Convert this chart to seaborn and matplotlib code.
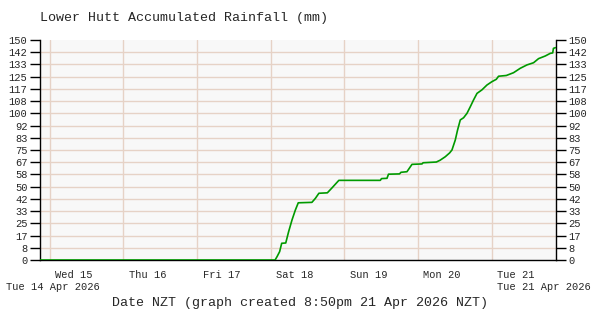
import numpy as np
import pandas as pd
import matplotlib
matplotlib.use("Agg")
import matplotlib.pyplot as plt
import matplotlib.transforms as mtransforms
import seaborn as sns

# ---- data (days since Wed 15 Apr 2026 00:00 NZT, accumulated rainfall mm) ----
days = [-0.132, 3.060, 3.087, 3.122, 3.150, 3.205, 3.244, 3.290, 3.335, 3.375,
        3.560, 3.607, 3.655, 3.770, 3.830, 3.926, 4.489, 4.505, 4.580, 4.600,
        4.750, 4.770, 4.851, 4.919, 5.055, 5.070, 5.250, 5.300, 5.371, 5.430,
        5.462, 5.507, 5.538, 5.575, 5.620, 5.666, 5.711, 5.755, 5.802, 5.869,
        5.937, 6.005, 6.064, 6.095, 6.200, 6.298, 6.389, 6.480, 6.570, 6.638,
        6.729, 6.797, 6.830, 6.840, 6.868]
rain_mm = [0, 0, 2.3, 5.7, 11.4, 11.6, 19.3, 27.3, 34.0, 39.0,
           39.3, 42.0, 45.5, 45.8, 49.0, 54.3, 54.3, 55.5, 55.7, 58.5,
           58.7, 59.8, 60.2, 65.2, 65.5, 66.3, 66.8, 68.0, 70.4, 73.0,
           75.0, 81.8, 88.6, 95.5, 97.0, 100.0, 104.5, 109.1, 113.6, 116.0,
           119.3, 121.6, 123.2, 125.3, 125.8, 127.7, 130.7, 133.0, 134.5, 137.3,
           139.1, 140.9, 141.2, 144.3, 144.8]
day_labels = ["Wed 15", "Thu 16", "Fri 17", "Sat 18", "Sun 19", "Mon 20", "Tue 21"]
y_ticks = [i * 150 / 18 for i in range(19)]
y_tick_labels = [str(int(round(v))) for v in y_ticks]
title = "Lower Hutt Accumulated Rainfall (mm)"
xlabel = "Date NZT (graph created 8:50pm 21 Apr 2026 NZT)"
start_label = "Tue 14 Apr 2026"
end_label = "Tue 21 Apr 2026"
x_start, x_end = -0.132, 6.868

df = pd.DataFrame({"day": days, "rain": rain_mm})

sns.set_style("white")
plt.rcParams["font.family"] = ["Liberation Mono", "DejaVu Sans Mono"]

fig = plt.figure(figsize=(6, 3.2), dpi=100)
fig.patch.set_facecolor("white")
ax = fig.add_axes([40 / 600, 60 / 320, 515.5 / 600, 220 / 320])
ax.set_facecolor("#f8f8f8")

grid_c = "#e6d2c6"
for y in y_ticks[1:-1]:
    ax.axhline(y, color=grid_c, lw=1.0, zorder=0)
for i in range(len(day_labels)):
    ax.axvline(i, color=grid_c, lw=1.0, zorder=0)

sns.lineplot(data=df, x="day", y="rain", ax=ax, color="#009a00", lw=1.2,
             drawstyle="default", zorder=3)

ax.set_xlim(x_start, x_end)
ax.set_ylim(0, 150)
ax.set_yticks(y_ticks)
ax.set_yticklabels(y_tick_labels)
ax.set_xticks(range(len(day_labels)))
ax.set_xticklabels(day_labels)
ax.tick_params(axis="y", which="both", left=True, right=True, labelleft=True,
               labelright=True, length=7, width=1, color="black",
               labelsize=7.5, pad=2, direction="out")
ax.tick_params(axis="x", length=5, width=1, color="black", labelsize=7.5,
               pad=2, direction="out")
offset = mtransforms.ScaledTranslation(4 / 72, 0, fig.dpi_scale_trans)
for lab in ax.get_xticklabels():
    lab.set_ha("left")
    lab.set_transform(lab.get_transform() + offset)

for side in ["left", "right", "bottom"]:
    ax.spines[side].set_visible(True)
    ax.spines[side].set_color("black")
    ax.spines[side].set_linewidth(1.0)
ax.spines["top"].set_visible(False)
ax.set_xlabel("")
ax.set_ylabel("")

fig.text(40 / 600, 1 - 18 / 320, title, fontsize=9.6, va="center", ha="left")
fig.text(6 / 600, 1 - 287 / 320, start_label, fontsize=7.5, va="center", ha="left")
fig.text(591 / 600, 1 - 287 / 320, end_label, fontsize=7.5, va="center", ha="right")
fig.text(300 / 600, 1 - 303 / 320, xlabel, fontsize=9.6, va="center", ha="center")

fig.savefig("out.png", dpi=100, facecolor="white")
